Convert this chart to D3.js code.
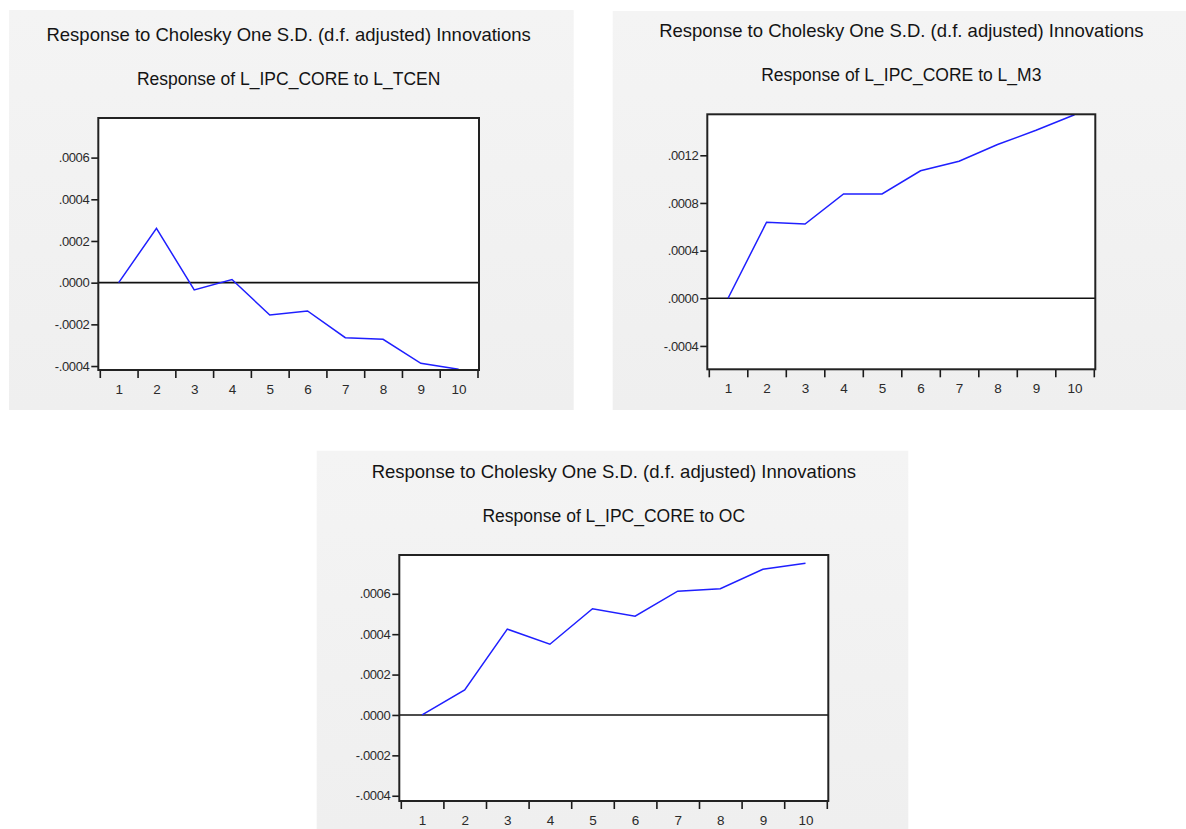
<!DOCTYPE html>
<html>
<head>
<meta charset="utf-8">
<script src="https://cdn.jsdelivr.net/npm/d3@7"></script>
<style>
  html, body { margin: 0; padding: 0; background: #ffffff; }
  svg { display: block; }
  text { font-family: "Liberation Sans", Arial, sans-serif; }
</style>
</head>
<body>
<svg id="chart" width="1186" height="829"></svg>
<script>
// Impulse-response horizon (periods)
const periods = [1, 2, 3, 4, 5, 6, 7, 8, 9, 10];

// Responses of L_IPC_CORE to one S.D. shocks
const respTCEN = [0, 0.000261, -0.000035, 0.000015, -0.000155, -0.000136, -0.000264, -0.000272, -0.000387, -0.000415];
const respM3   = [0, 0.000638, 0.000623, 0.000875, 0.000875, 0.00107, 0.00115, 0.00129, 0.00141, 0.00154];
const respOC   = [0, 0.000124, 0.000425, 0.000350, 0.000526, 0.000489, 0.000613, 0.000625, 0.000721, 0.000751];

// Vertical axis ranges and tick values
const domainTCEN = [-0.000419, 0.00079];
const domainM3   = [-0.000596, 0.001544];
const domainOC   = [-0.000426, 0.000792];
const ticksTCEN = [-0.0004, -0.0002, 0, 0.0002, 0.0004, 0.0006];
const ticksM3   = [-0.0004, 0, 0.0004, 0.0008, 0.0012];
const ticksOC   = [-0.0004, -0.0002, 0, 0.0002, 0.0004, 0.0006];

// Titles
const mainTitle = "Response to Cholesky One S.D. (d.f. adjusted) Innovations";
const subTitleTCEN = "Response of L_IPC_CORE to L_TCEN";
const subTitleM3   = "Response of L_IPC_CORE to L_M3";
const subTitleOC   = "Response of L_IPC_CORE to OC";

// Panel layout: grey frame and inner plot box
const panels = [
  { values: respTCEN, domain: domainTCEN, ticks: ticksTCEN, sub: subTitleTCEN,
    frame: { x0: 9, y0: 10, x1: 573.7, y1: 410 },
    box:   { x0: 98.3, y0: 118, x1: 479, y1: 370 } },
  { values: respM3, domain: domainM3, ticks: ticksM3, sub: subTitleM3,
    frame: { x0: 612.7, y0: 11, x1: 1186, y1: 410 },
    box:   { x0: 707.3, y0: 114.3, x1: 1095.3, y1: 369.3 } },
  { values: respOC, domain: domainOC, ticks: ticksOC, sub: subTitleOC,
    frame: { x0: 316.7, y0: 450.7, x1: 908.3, y1: 829 },
    box:   { x0: 399.3, y0: 555, x1: 828.3, y1: 801 } }
];

const svg = d3.select("#chart");

const defs = svg.append("defs");
const grad = defs.append("linearGradient")
  .attr("id", "frameFill").attr("x1", 0).attr("y1", 0).attr("x2", 0).attr("y2", 1);
grad.append("stop").attr("offset", "0%").attr("stop-color", "#f4f4f4");
grad.append("stop").attr("offset", "100%").attr("stop-color", "#efefef");

// ".0006" / "-.0004" style labels
const fmt = v => {
  const s = d3.format(".4f")(Math.abs(v)).replace(/^0\./, ".");
  return (v < 0 ? "-" : "") + s;
};

panels.forEach(p => {
  const g = svg.append("g");
  const b = p.box;

  g.append("rect")
    .attr("x", p.frame.x0).attr("y", p.frame.y0)
    .attr("width", p.frame.x1 - p.frame.x0).attr("height", p.frame.y1 - p.frame.y0)
    .attr("fill", "url(#frameFill)");

  g.append("rect")
    .attr("x", b.x0).attr("y", b.y0)
    .attr("width", b.x1 - b.x0).attr("height", b.y1 - b.y0)
    .attr("fill", "#ffffff");

  const cx = (b.x0 + b.x1) / 2;
  g.append("text")
    .attr("x", cx).attr("y", b.y0 - 77)
    .attr("text-anchor", "middle")
    .attr("font-size", "18.5px")
    .attr("fill", "#141414")
    .text(mainTitle);
  g.append("text")
    .attr("x", cx).attr("y", b.y0 - 33)
    .attr("text-anchor", "middle")
    .attr("font-size", "17.5px")
    .attr("fill", "#141414")
    .text(p.sub);

  const x = d3.scaleLinear().domain([0.5, 10.5]).range([b.x0 + 1.5, b.x1 - 1.5]);
  const y = d3.scaleLinear().domain(p.domain).range([b.y1, b.y0]);

  // Left axis
  const ya = g.append("g")
    .attr("transform", `translate(${b.x0},0)`)
    .call(d3.axisLeft(y).tickValues(p.ticks).tickSize(7).tickPadding(2).tickFormat(fmt));
  ya.select(".domain").remove();
  ya.selectAll(".tick line").attr("stroke", "#1a1a1a").attr("stroke-width", 1.6);
  ya.selectAll(".tick text")
    .attr("font-size", "13px")
    .attr("font-family", "'Liberation Sans', Arial, sans-serif")
    .attr("fill", "#2a2a2a")
    .attr("letter-spacing", "-0.4px");

  // Bottom axis: tick marks between periods
  const xa = g.append("g")
    .attr("transform", `translate(0,${b.y1})`)
    .call(d3.axisBottom(x).tickValues(d3.range(0.5, 11, 1)).tickSize(8).tickFormat(""));
  xa.select(".domain").remove();
  xa.selectAll(".tick line").attr("stroke", "#1a1a1a").attr("stroke-width", 1.6);

  // Bottom axis: period labels
  const xl = g.append("g")
    .attr("transform", `translate(0,${b.y1})`)
    .call(d3.axisBottom(x).tickValues(periods).tickSize(0).tickPadding(14).tickFormat(d3.format("d")));
  xl.select(".domain").remove();
  xl.selectAll(".tick text")
    .attr("font-size", "13.5px")
    .attr("font-family", "'Liberation Sans', Arial, sans-serif")
    .attr("fill", "#2a2a2a");

  // Zero line
  g.append("line")
    .attr("x1", b.x0).attr("x2", b.x1)
    .attr("y1", y(0)).attr("y2", y(0))
    .attr("stroke", "#111111").attr("stroke-width", 1.6);

  // Response path
  const line = d3.line()
    .x((d, i) => x(periods[i]))
    .y(d => y(d));
  g.append("path")
    .datum(p.values)
    .attr("d", line)
    .attr("fill", "none")
    .attr("stroke", "#1f1fff")
    .attr("stroke-width", 1.5);

  // Plot box border
  g.append("rect")
    .attr("x", b.x0).attr("y", b.y0)
    .attr("width", b.x1 - b.x0).attr("height", b.y1 - b.y0)
    .attr("fill", "none")
    .attr("stroke", "#222222")
    .attr("stroke-width", 2);
});
</script>
</body>
</html>
